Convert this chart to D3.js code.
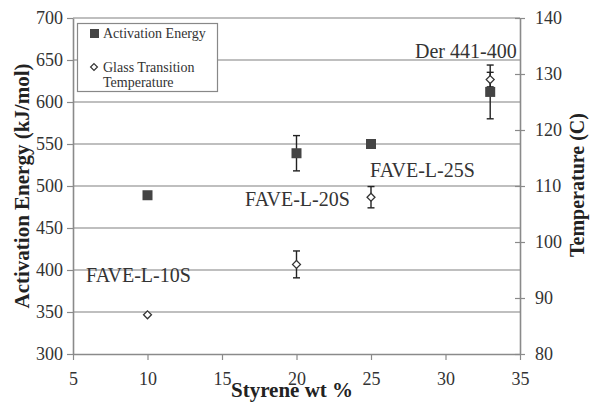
<!DOCTYPE html>
<html>
<head>
<meta charset="utf-8">
<script src="https://cdn.jsdelivr.net/npm/d3@7"></script>
<style>
  html, body { margin: 0; padding: 0; background: #fff; }
  svg { display: block; }
  svg text { font-family: "Liberation Serif", "Times New Roman", serif !important; }
</style>
</head>
<body>
<svg id="chart" width="590" height="403"></svg>
<script>
// Styrene content of each resin (wt %)
const styrene = [10, 20, 25, 33];
// Activation energy (kJ/mol) with error
const activationEnergy = [489, 539, 550, 612];
const activationErr = [0, 21, 0, 32];
// Glass transition temperature (C) with error
const glassTemp = [87, 96, 108, 129];
const glassErr = [0, 2.4, 1.9, 1.3];
// Sample names
const sampleNames = ["FAVE-L-10S", "FAVE-L-20S", "FAVE-L-25S", "Der 441-400"];

const xTicks = [5, 10, 15, 20, 25, 30, 35];
const leftTicks = [300, 350, 400, 450, 500, 550, 600, 650, 700];
const rightTicks = [80, 90, 100, 110, 120, 130, 140];

const svg = d3.select("#chart");
const m = { left: 73, right: 520, top: 18, bottom: 354 };

const x = d3.scaleLinear().domain([5, 35]).range([m.left, m.right]);
const yL = d3.scaleLinear().domain([300, 700]).range([m.bottom, m.top]);
const yR = d3.scaleLinear().domain([80, 140]).range([m.bottom, m.top]);

const axisColor = "#8a8a8a";
const gridColor = "#aaaaaa";
const textColor = "#333";

// horizontal gridlines on the energy axis
svg.append("g").selectAll("line").data(leftTicks.slice(1)).join("line")
  .attr("x1", m.left).attr("x2", m.right)
  .attr("y1", d => yL(d)).attr("y2", d => yL(d))
  .attr("stroke", gridColor).attr("stroke-width", 1.6);

function styleAxis(g) {
  g.attr("font-family", null).attr("font-size", null);
  g.select(".domain").attr("stroke", axisColor).attr("stroke-width", 1.6);
  g.selectAll(".tick line").attr("stroke", axisColor).attr("stroke-width", 1.2);
  g.selectAll(".tick text").attr("fill", textColor).style("font-size", "18px");
}

// bottom axis
svg.append("g").attr("transform", `translate(0,${m.bottom})`)
  .call(d3.axisBottom(x).tickValues(xTicks).tickSize(6).tickSizeOuter(0).tickPadding(12))
  .call(styleAxis);

// left axis
svg.append("g").attr("transform", `translate(${m.left},0)`)
  .call(d3.axisLeft(yL).tickValues(leftTicks).tickSize(6).tickSizeOuter(0).tickPadding(4))
  .call(styleAxis);

// right axis with ticks crossing the line
const rAx = svg.append("g").attr("transform", `translate(${m.right},0)`)
  .call(d3.axisRight(yR).tickValues(rightTicks).tickSize(5).tickSizeOuter(0).tickPadding(10))
  .call(styleAxis);
rAx.selectAll(".tick line").attr("x1", -5);

// error bars
function errorBars(vals, errs, scale) {
  const g = svg.append("g").attr("stroke", "#222").attr("stroke-width", 1.4);
  styrene.forEach((s, i) => {
    if (!errs[i]) return;
    const cx = x(s), lo = scale(vals[i] - errs[i]), hi = scale(vals[i] + errs[i]);
    g.append("line").attr("x1", cx).attr("x2", cx).attr("y1", lo).attr("y2", hi);
    g.append("line").attr("x1", cx - 3.5).attr("x2", cx + 3.5).attr("y1", lo).attr("y2", lo);
    g.append("line").attr("x1", cx - 3.5).attr("x2", cx + 3.5).attr("y1", hi).attr("y2", hi);
  });
}
errorBars(activationEnergy, activationErr, yL);
errorBars(glassTemp, glassErr, yR);

// activation energy markers
const sq = 10;
svg.append("g").selectAll("rect").data(styrene).join("rect")
  .attr("x", d => x(d) - sq / 2)
  .attr("y", (d, i) => yL(activationEnergy[i]) - sq / 2)
  .attr("width", sq).attr("height", sq)
  .attr("fill", "#444");

// glass transition markers
const diamond = d3.symbol().type(d3.symbolDiamond2).size(40);
svg.append("g").selectAll("path").data(styrene).join("path")
  .attr("d", diamond)
  .attr("transform", (d, i) => `translate(${x(d)},${yR(glassTemp[i])})`)
  .attr("fill", "#fff").attr("stroke", "#333").attr("stroke-width", 1.3);

// sample annotations
const labelPos = [
  { x: 86, y: 282 },
  { x: 245, y: 206 },
  { x: 370, y: 177 },
  { x: 415, y: 58 }
];
svg.append("g").selectAll("text").data(sampleNames).join("text")
  .attr("x", (d, i) => labelPos[i].x).attr("y", (d, i) => labelPos[i].y)
  .style("font-size", "20px").attr("fill", textColor)
  .text(d => d);

// legend
const lg = svg.append("g");
lg.append("rect").attr("x", 77.5).attr("y", 23.5).attr("width", 140).attr("height", 68)
  .attr("fill", "#fff").attr("stroke", "#888").attr("stroke-width", 1.2);
lg.append("rect").attr("x", 90).attr("y", 29).attr("width", 9).attr("height", 9).attr("fill", "#444");
lg.append("text").attr("x", 103).attr("y", 38).style("font-size", "14px").attr("fill", textColor)
  .text("Activation Energy");
lg.append("path").attr("d", d3.symbol().type(d3.symbolDiamond2).size(30))
  .attr("transform", "translate(94,67)")
  .attr("fill", "#fff").attr("stroke", "#333").attr("stroke-width", 1.2);
lg.append("text").attr("x", 103).attr("y", 72).style("font-size", "14px").attr("fill", textColor)
  .text("Glass Transition");
lg.append("text").attr("x", 103).attr("y", 87).style("font-size", "14px").attr("fill", textColor)
  .text("Temperature");

// axis titles
svg.append("text").attr("transform", "translate(29,186) rotate(-90)")
  .attr("text-anchor", "middle").style("font-size", "21px").attr("font-weight", "bold")
  .attr("fill", "#222").text("Activation Energy (kJ/mol)");
svg.append("text").attr("transform", "translate(584,185) rotate(-90)")
  .attr("text-anchor", "middle").style("font-size", "20px").attr("font-weight", "bold")
  .attr("fill", "#222").text("Temperature (C)");
svg.append("text").attr("x", 292).attr("y", 397)
  .attr("text-anchor", "middle").style("font-size", "21px").attr("font-weight", "bold")
  .attr("fill", "#222").text("Styrene wt %");
</script>
</body>
</html>
